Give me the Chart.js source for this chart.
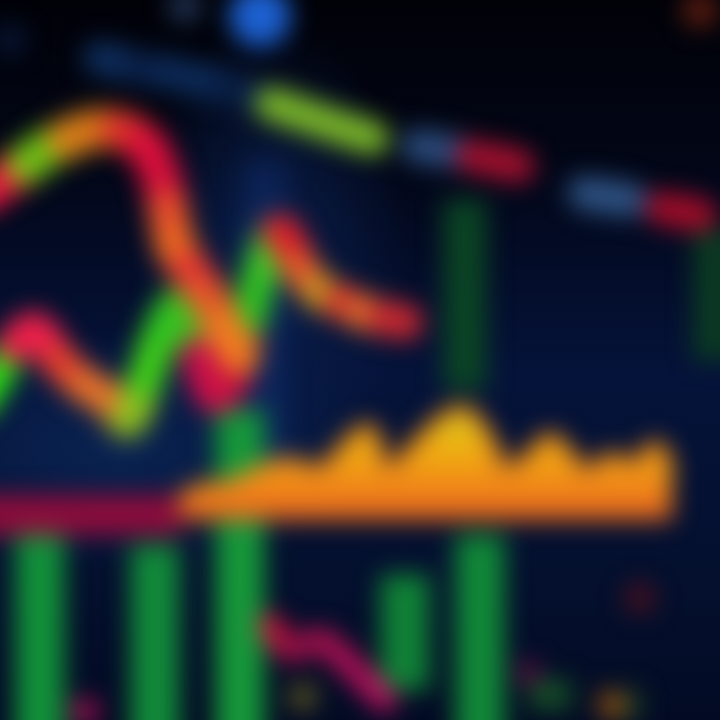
<!DOCTYPE html>
<html>
<head>
<meta charset="utf-8">
<script src="https://cdn.jsdelivr.net/npm/chart.js@4"></script>
<style>
  html, body { margin: 0; padding: 0; background: #030a1e; overflow: hidden; }
  .wrap {
    position: relative; width: 720px; height: 720px; overflow: hidden;
    background:
      radial-gradient(ellipse 260px 120px at 120px 450px, #0a2352 0%, rgba(10,35,82,0) 100%),
      radial-gradient(ellipse 140px 240px at 270px 260px, #0a1f4c 0%, rgba(10,31,76,0) 100%),
      linear-gradient(180deg, #010208 0%, #020616 22%, #05133a 52%, #04102e 80%, #030b24 100%);
  }
  #tickerChart { position: absolute; left: -40px; top: -40px; filter: blur(12px); }
</style>
</head>
<body>
<div class="wrap">
  <canvas id="tickerChart" width="800" height="800"></canvas>
</div>
<script>
// price wave (upper)
const waveX = [-2, 2.5, 4.5, 6.5, 9, 12, 14.5, 16, 16.8, 17.5, 19, 21, 22.5, 24];
const waveY = [52.5, 55.5, 57, 58, 59, 59, 57.5, 54.5, 51, 47.5, 45, 42, 39, 36.5];
const waveColors = ["#e8173f", "#8ab81a", "#5cc614", "#d8861a", "#d87a18", "#e0352a", "#e0103c",
  "#d8103c", "#e8502a", "#f06a20", "#e83a30", "#e85a28", "#f07a20"];

// zigzag (lower)
const zigX = [-2, 1.5, 3.5, 6, 8.5, 11, 12.8, 14.5, 16.2, 18, 19.8, 21.5, 23.2, 24.8, 26.4, 28, 30, 32, 34.2, 36.2, 38.5, 40.5];
const zigY = [32, 37.5, 39, 35.8, 33.5, 32, 30, 34, 39, 41.5, 36.5, 32.5, 34, 40, 45.8, 48.8, 45.2, 42.8, 41.8, 40.8, 40.2, 39.8];
const zigColors = ["#2ee014", "#e82048", "#f0204a", "#e8402c", "#e8702a", "#e8782a", "#8cc020", "#40d018",
  "#30c820", "#38c020", "#c8104a", "#d01048", "#c81040", "#30c020", "#40c828", "#e0202a", "#e85a28",
  "#c89a20", "#d8302c", "#e0702a", "#c82830", "#801030"];

// volume area
const areaX = [18, 20, 23, 26, 29, 32, 35, 37, 38.7, 41, 44, 46.5, 49, 50.5, 53, 55, 57, 58.7, 61, 63.5, 65.5, 67.2];
const areaY = [22, 23.2, 23.5, 25, 25.8, 25, 28, 29.2, 25, 27, 30, 31, 28, 25, 26.5, 28.3, 26.5, 24.7, 26.3, 25.5, 27.5, 25];
const areaBase = 20;

// red band on the left
const bandX = [-3, 18];
const bandY = [20.5, 20.5];

// moving average dashes (top)
const dashX = [10, 14, 16.5, 23, 27.2, 37.2, 41.8, 45.6, 47.2, 51.8, 58.5, 63, 66.2, 70];
const dashY = [66.2, 65.2, 64.8, 63.2, 61.6, 58.2, 57.4, 56.8, 56.4, 55.4, 52.7, 52, 51.2, 50.5];
const dashColors = ["#0e2e5e", "#0a2048", "#0c2a58", "#0a1f45", "#7ab52a", "rgba(0,0,0,0)", "#2a4a7a",
  "rgba(0,0,0,0)", "#a0102e", "rgba(0,0,0,0)", "#2e5282", "rgba(0,0,0,0)", "#a00c28"];

// green volume bars
const barX = [4, 15.5, 24, 40.5, 48];
const barLow = [-4, -4, -4, 3, -4];
const barHigh = [19.5, 17.5, 31, 14.5, 18.5];
const barColors = ["#12903a", "#128a3a", "#16983a", "#108236", "#118838"];

const dimBarX = [46.5, 71.5, 55, 62, 26.5];
const dimBarLow = [33, 36, 1, 0, 26];
const dimBarHigh = [52, 49, 4, 3, 56];
const dimBarColors = ["#0b4424", "#0b3a22", "#154a26", "#153c26", "rgba(20,60,140,0.3)"];

// red trail at the bottom
const trailX = [27, 29, 32, 34.5, 37, 38.5];
const trailY = [9.5, 7, 8, 6, 3.5, 2];
const trailColors = ["#c8103c", "#a01048", "#b01050", "#b81058", "#c01060"];

// loose blobs
const blobX = [26, 18.5, 70, 30.3, 61.2, 8.5, 52.8, 64, 55, 1];
const blobY = [70.4, 71.4, 71, 2.3, 1.5, 0.8, 4.7, 12.2, 3, 68];
const blobColors = ["#1c60d0", "#223658", "#5a1c10", "#5a5420", "#904810", "#a01050", "#601040", "#441020", "#165028", "#081636"];
const blobSizes = [31, 16, 18, 14, 14, 14, 12, 16, 12, 16];

const pts = (xs, ys) => xs.map((x, i) => ({ x: x, y: ys[i] }));
const rangePts = (xs, lo, hi) => xs.map((x, i) => ({ x: x, y: [lo[i], hi[i]] }));

const ctx = document.getElementById("tickerChart").getContext("2d");
const tickerChart = new Chart(ctx, {
  type: "line",
  data: {
    datasets: [
      {
        type: "bar",
        data: rangePts(dimBarX, dimBarLow, dimBarHigh),
        backgroundColor: dimBarColors,
        barThickness: 42,
        grouped: false,
        order: 9,
      },
      {
        type: "bar",
        data: rangePts(barX, barLow, barHigh),
        backgroundColor: barColors,
        barThickness: 48,
        grouped: false,
        order: 8,
      },
      {
        data: pts(areaX, areaY),
        borderColor: "#f08a1a",
        borderWidth: 10,
        tension: 0.35,
        pointRadius: 0,
        fill: { value: areaBase },
        backgroundColor: (c) => {
          const chart = c.chart;
          if (!chart.chartArea) return "#f0a018";
          const y = chart.scales.y;
          const g = chart.ctx.createLinearGradient(0, y.getPixelForValue(31), 0, y.getPixelForValue(areaBase));
          g.addColorStop(0, "#c8d020");
          g.addColorStop(0.35, "#f0b010");
          g.addColorStop(0.7, "#f08818");
          g.addColorStop(1, "#e86020");
          return g;
        },
        order: 5,
      },
      {
        data: pts(bandX, bandY),
        borderColor: "#8e0c3c",
        borderWidth: 40,
        pointRadius: 0,
        order: 6,
      },
      {
        data: pts(dashX, dashY),
        borderWidth: 34,
        borderCapStyle: "round",
        pointRadius: 0,
        tension: 0.2,
        segment: { borderColor: (s) => dashColors[s.p0DataIndex] },
        order: 4,
      },
      {
        data: pts(zigX, zigY),
        borderWidth: 36,
        borderCapStyle: "round",
        borderJoinStyle: "round",
        pointRadius: 0,
        tension: 0.35,
        segment: { borderColor: (s) => zigColors[s.p0DataIndex] },
        order: 2,
      },
      {
        data: pts(waveX, waveY),
        borderWidth: 40,
        borderCapStyle: "round",
        borderJoinStyle: "round",
        pointRadius: 0,
        tension: 0.35,
        segment: { borderColor: (s) => waveColors[s.p0DataIndex] },
        order: 1,
      },
      {
        data: pts(trailX, trailY),
        borderWidth: 24,
        borderCapStyle: "round",
        pointRadius: 0,
        tension: 0.3,
        segment: { borderColor: (s) => trailColors[s.p0DataIndex] },
        order: 3,
      },
      {
        type: "scatter",
        data: pts(blobX, blobY),
        backgroundColor: blobColors,
        borderWidth: 0,
        pointRadius: blobSizes,
        order: 7,
      },
    ],
  },
  options: {
    responsive: false,
    animation: false,
    layout: { padding: 0, autoPadding: false },
    plugins: { legend: { display: false }, tooltip: { enabled: false } },
    scales: {
      x: { type: "linear", min: -4, max: 76, offset: false, display: false },
      y: { type: "linear", min: -4, max: 76, display: false },
    },
  },
});
</script>
</body>
</html>
